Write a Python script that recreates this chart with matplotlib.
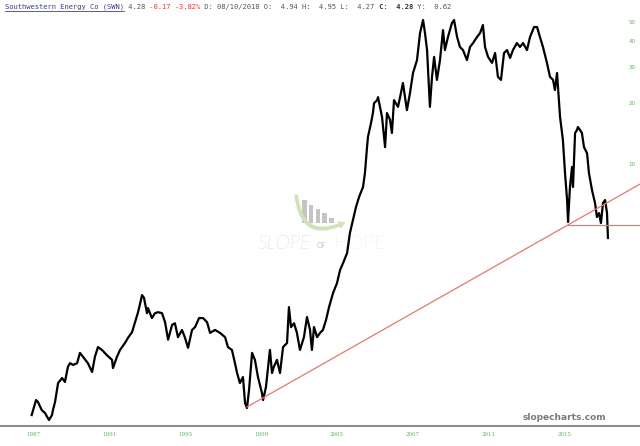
import numpy as np
import matplotlib
matplotlib.use("Agg")
import matplotlib.pyplot as plt
from matplotlib.patches import Rectangle, FancyArrowPatch
from matplotlib.ticker import FixedLocator, NullLocator

# SWN price history (decimal year, price in $)
years = [
    1986.93, 1987.16, 1987.26, 1987.46, 1987.63, 1987.84, 1988.00, 1988.05, 1988.16, 1988.32,
    1988.53, 1988.68, 1988.84, 1988.95, 1989.11, 1989.32, 1989.47, 1989.63, 1989.89, 1990.11,
    1990.26, 1990.42, 1990.63, 1990.89, 1991.16, 1991.21, 1991.42, 1991.58, 1991.84, 1992.00,
    1992.21, 1992.37, 1992.53, 1992.74, 1992.84, 1993.00, 1993.05, 1993.26, 1993.42, 1993.58,
    1993.79, 1993.95, 1994.11, 1994.32, 1994.47, 1994.63, 1994.84, 1995.00, 1995.16, 1995.37,
    1995.53, 1995.74, 1995.95, 1996.16, 1996.32, 1996.58, 1996.84, 1997.11, 1997.26, 1997.47,
    1997.63, 1997.74, 1997.89, 1998.05, 1998.16, 1998.26, 1998.37, 1998.53, 1998.68, 1998.84,
    1999.05, 1999.11, 1999.26, 1999.47, 1999.58, 1999.68, 1999.84, 2000.00, 2000.16, 2000.37,
    2000.47, 2000.58, 2000.74, 2000.89, 2001.05, 2001.26, 2001.42, 2001.58, 2001.68, 2001.79,
    2001.95, 2002.11, 2002.26, 2002.42, 2002.58, 2002.79, 2003.00, 2003.16, 2003.32, 2003.53,
    2003.68, 2003.84, 2004.00, 2004.16, 2004.37, 2004.47, 2004.58, 2004.63, 2004.79, 2004.89,
    2004.95, 2005.11, 2005.16, 2005.37, 2005.53, 2005.63, 2005.79, 2005.89, 2006.00, 2006.21,
    2006.32, 2006.47, 2006.68, 2006.84, 2007.00, 2007.21, 2007.37, 2007.53, 2007.63, 2007.74,
    2007.89, 2008.00, 2008.11, 2008.26, 2008.42, 2008.58, 2008.68, 2008.84, 2009.05, 2009.16,
    2009.32, 2009.47, 2009.63, 2009.84, 2010.00, 2010.16, 2010.37, 2010.53, 2010.68, 2010.79,
    2010.95, 2011.16, 2011.32, 2011.47, 2011.63, 2011.79, 2011.95, 2012.11, 2012.26, 2012.47,
    2012.63, 2012.79, 2013.00, 2013.16, 2013.37, 2013.53, 2013.68, 2013.84, 2014.05, 2014.21,
    2014.37, 2014.47, 2014.58, 2014.74, 2014.89, 2015.00, 2015.11, 2015.16, 2015.26, 2015.37,
    2015.42, 2015.53, 2015.63, 2015.68, 2015.79, 2015.89, 2016.00, 2016.16, 2016.26, 2016.42,
    2016.58, 2016.68, 2016.79, 2016.89, 2017.00, 2017.11, 2017.21, 2017.26,
]
prices = [
    0.584, 0.692, 0.677, 0.618, 0.598, 0.552, 0.584, 0.618, 0.677, 0.839,
    0.888, 0.849, 1.01, 1.05, 1.03, 1.05, 1.18, 1.13, 1.05, 0.950,
    1.13, 1.26, 1.22, 1.15, 1.09, 0.994, 1.13, 1.22, 1.32, 1.40,
    1.49, 1.67, 1.87, 2.27, 2.20, 1.85, 1.96, 1.75, 1.85, 1.87,
    1.85, 1.67, 1.37, 1.62, 1.65, 1.41, 1.53, 1.40, 1.25, 1.53,
    1.58, 1.75, 1.75, 1.67, 1.48, 1.53, 1.48, 1.41, 1.26, 1.22,
    1.05, 0.940, 0.839, 0.898, 0.669, 0.632, 0.775, 1.18, 1.09, 0.898,
    0.749, 0.692, 0.802, 1.22, 0.940, 1.01, 1.09, 0.940, 1.26, 1.32,
    1.98, 1.58, 1.65, 1.48, 1.22, 1.41, 1.77, 1.53, 1.22, 1.58,
    1.41, 1.48, 1.53, 1.71, 1.98, 2.32, 2.60, 3.01, 3.26, 3.65,
    4.58, 5.31, 6.15, 6.88, 7.71, 9.03, 12.1, 13.6, 15.9, 17.8,
    19.9, 20.6, 21.3, 17.0, 12.1, 17.8, 16.5, 14.2, 20.6, 19.1,
    21.3, 25.0, 18.4, 22.3, 28.0, 32.4, 44.0, 51.0, 44.0, 36.3,
    19.1, 26.8, 33.6, 25.9, 32.4, 45.5, 36.3, 42.1, 49.3, 51.0,
    42.1, 37.6, 36.3, 32.4, 37.6, 39.3, 42.1, 44.0, 48.2, 37.6,
    33.6, 31.4, 35.1, 26.8, 25.9, 35.1, 36.3, 33.2, 36.3, 39.3,
    37.6, 39.3, 36.3, 42.1, 47.1, 47.1, 42.1, 37.6, 31.4, 26.8,
    25.9, 23.1, 28.0, 17.0, 13.1, 9.03, 6.65, 5.19, 7.71, 9.67,
    7.71, 14.2, 14.7, 15.2, 14.7, 14.2, 12.1, 11.3, 9.03, 7.45,
    6.43, 5.49, 5.74, 5.13, 6.43, 6.65, 5.74, 4.33,
]

tick_years = [1987, 1991, 1995, 1999, 2003, 2007, 2011, 2015]
price_ticks = [10, 20, 30, 40, 50]

# drawn trendline: rising support from the 1998 low, plus flat line at the 2016 low
trend_start = (1998.26, 0.640)
trend_touch = (2015.14, 5.01)
support_level = 5.01

header = [
    ("Southwestern Energy Co (SWN)", "#3b3b9e", "normal"),
    (" 4.28", "#555555", "normal"),
    (" -0.17 -3.82%", "#e23b3b", "normal"),
    (" D: 08/10/2018 O:  4.94 H:  4.95 L:  4.27", "#555555", "normal"),
    (" C:  4.28", "#333333", "bold"),
    (" Y:  0.62", "#555555", "normal"),
]

xmin, xmax = 1985.263, 2018.947
ymin, ymax = 0.516, 63.96

fig = plt.figure(figsize=(6.4, 4.46), dpi=100)

# background layer in pixel coordinates: header and watermark
bg = fig.add_axes([0, 0, 1, 1], zorder=0)
bg.set_xlim(0, 640)
bg.set_ylim(446, 0)
bg.axis("off")

col = 0
cw = 4.25
for txt, c, w in header:
    bg.text(5 + col * cw, 7, txt, color=c, fontsize=5.1, fontweight=w,
            family="DejaVu Sans Mono", va="center", ha="left")
    col += len(txt)
bg.plot([5, 5 + 28 * cw], [11, 11], color="#3b3b9e", lw=0.6)

# slope of hope logo
bar_tops = [200, 205, 209, 213, 218]
for i, top in enumerate(bar_tops):
    bg.add_patch(Rectangle((302 + i * 6.8, top), 4.5, 223 - top, color="#c4c4c4", lw=0))
bg.add_patch(FancyArrowPatch((296, 192), (348, 221), connectionstyle="arc3,rad=0.75",
                             arrowstyle="simple,head_width=6,head_length=5,tail_width=2.6",
                             color="#cfe3b6", lw=0, mutation_scale=1))
bg.text(258, 244, "SLOPE", color="#b5b5b5", fontsize=14, family="Lato",
        fontweight="light", style="italic", va="center", ha="left")
bg.text(317, 245, "OF", color="#c4c4c4", fontsize=5, family="Lato", va="center", ha="left")
bg.text(334, 244, "HOPE", color="#d2e6ba", fontsize=14, family="Lato",
        fontweight="light", va="center", ha="left")
bg.text(564, 417, "slopecharts.com", color="#7a7a7a", fontsize=6.5, fontweight="bold",
        va="center", ha="center")

# price chart
ax = fig.add_axes([0, 1 - 426 / 446, 1, 426 / 446], zorder=1)
ax.set_facecolor("none")
ax.plot(years, prices, color="black", lw=1.6)

x1, p1 = trend_start
x2, p2 = trend_touch
slope = (np.log10(p2) - np.log10(p1)) / (x2 - x1)
tx = np.array([x1, xmax])
ax.plot(tx, 10 ** (np.log10(p1) + slope * (tx - x1)), color="#e8776f", lw=0.9)
ax.plot([x2, xmax], [support_level, support_level], color="#e8776f", lw=0.9)

ax.set_yscale("log")
ax.set_xlim(xmin, xmax)
ax.set_ylim(ymin, ymax)

ax.yaxis.set_major_locator(FixedLocator(price_ticks))
ax.yaxis.set_minor_locator(NullLocator())
ax.set_yticklabels([str(v) for v in price_ticks])
ax.yaxis.tick_right()
ax.tick_params(axis="y", length=0, pad=-8.3, labelsize=4, labelcolor="#5cb85c")

ax.set_xticks(tick_years)
ax.set_xticklabels([str(y) for y in tick_years], family="DejaVu Serif")
ax.tick_params(axis="x", length=0, pad=4.5, labelsize=4, labelcolor="#5cb85c")

for s in ["top", "left", "right"]:
    ax.spines[s].set_visible(False)
ax.spines["bottom"].set_color("#8c8c8c")
ax.spines["bottom"].set_linewidth(1.5)

fig.savefig("out.png", dpi=100)
